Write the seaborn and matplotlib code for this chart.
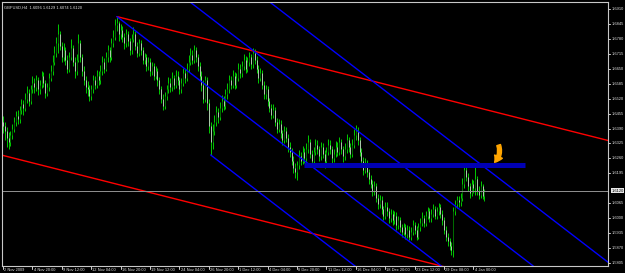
import matplotlib
matplotlib.use("Agg")
import matplotlib.pyplot as plt
import matplotlib.transforms as mtrans
import seaborn as sns
import pandas as pd

# ---------------- data ----------------
symbol = "GBPUSD,H4"
first_open = 1.6420
close = [1.6400, 1.6380, 1.6350, 1.6330, 1.6360, 1.6390, 1.6420, 1.6445, 1.6430, 1.6470,
         1.6495, 1.6480, 1.6520, 1.6545, 1.6510, 1.6560, 1.6590, 1.6570, 1.6600, 1.6560,
         1.6580, 1.6620, 1.6590, 1.6545, 1.6570, 1.6610, 1.6640, 1.6680, 1.6720, 1.6760,
         1.6800, 1.6750, 1.6700, 1.6730, 1.6690, 1.6650, 1.6700, 1.6740, 1.6680, 1.6640,
         1.6690, 1.6760, 1.6700, 1.6640, 1.6600, 1.6570, 1.6560, 1.6530, 1.6560, 1.6600,
         1.6580, 1.6620, 1.6600, 1.6640, 1.6680, 1.6650, 1.6700, 1.6730, 1.6700, 1.6760,
         1.6790, 1.6840, 1.6850, 1.6800, 1.6820, 1.6790, 1.6760, 1.6800, 1.6770, 1.6730,
         1.6780, 1.6800, 1.6750, 1.6720, 1.6760, 1.6730, 1.6690, 1.6700, 1.6660, 1.6680,
         1.6640, 1.6660, 1.6620, 1.6640, 1.6600, 1.6560, 1.6520, 1.6490, 1.6530, 1.6560,
         1.6590, 1.6570, 1.6610, 1.6580, 1.6620, 1.6600, 1.6560, 1.6590, 1.6630, 1.6610,
         1.6650, 1.6680, 1.6710, 1.6690, 1.6730, 1.6700, 1.6660, 1.6620, 1.6580, 1.6520,
         1.6600, 1.6500, 1.6400, 1.6330, 1.6380, 1.6420, 1.6460, 1.6440, 1.6480, 1.6510,
         1.6490, 1.6540, 1.6560, 1.6600, 1.6580, 1.6620, 1.6580, 1.6610, 1.6650, 1.6630,
         1.6660, 1.6690, 1.6650, 1.6680, 1.6700, 1.6670, 1.6720, 1.6690, 1.6650, 1.6610,
         1.6630, 1.6580, 1.6540, 1.6560, 1.6510, 1.6480, 1.6450, 1.6470, 1.6420, 1.6390,
         1.6410, 1.6370, 1.6340, 1.6380, 1.6350, 1.6310, 1.6290, 1.6250, 1.6220, 1.6200,
         1.6230, 1.6270, 1.6250, 1.6290, 1.6260, 1.6300, 1.6330, 1.6280, 1.6250, 1.6290,
         1.6320, 1.6300, 1.6270, 1.6310, 1.6280, 1.6250, 1.6290, 1.6320, 1.6300, 1.6260,
         1.6280, 1.6310, 1.6290, 1.6330, 1.6300, 1.6270, 1.6300, 1.6340, 1.6310, 1.6280,
         1.6320, 1.6360, 1.6380, 1.6340, 1.6290, 1.6250, 1.6210, 1.6240, 1.6200, 1.6170,
         1.6150, 1.6120, 1.6140, 1.6090, 1.6060, 1.6080, 1.6040, 1.6010, 1.6050, 1.6030,
         1.6000, 1.6020, 1.5990, 1.6010, 1.5970, 1.5990, 1.5960, 1.5940, 1.5960, 1.5930,
         1.5950, 1.5920, 1.5940, 1.5970, 1.5950, 1.5920, 1.5960, 1.5980, 1.6000, 1.5980,
         1.6010, 1.6030, 1.6000, 1.6020, 1.6040, 1.6010, 1.6030, 1.6050, 1.6020, 1.5990,
         1.5950, 1.5920, 1.5900, 1.5880, 1.5860, 1.6030, 1.6060, 1.6080, 1.6070, 1.6090,
         1.6150, 1.6210, 1.6180, 1.6140, 1.6110, 1.6150, 1.6130, 1.6170, 1.6120, 1.6100,
         1.6140, 1.6096, 1.6120]
high = [1.6445, 1.6420, 1.6395, 1.6375, 1.6380, 1.6410, 1.6440, 1.6465, 1.6470, 1.6490,
        1.6520, 1.6515, 1.6545, 1.6575, 1.6560, 1.6580, 1.6620, 1.6610, 1.6625, 1.6615,
        1.6600, 1.6640, 1.6635, 1.6600, 1.6590, 1.6630, 1.6665, 1.6710, 1.6750, 1.6790,
        1.6845, 1.6815, 1.6765, 1.6760, 1.6745, 1.6710, 1.6725, 1.6780, 1.6755, 1.6700,
        1.6715, 1.6800, 1.6775, 1.6715, 1.6660, 1.6620, 1.6595, 1.6580, 1.6580, 1.6625,
        1.6620, 1.6645, 1.6640, 1.6665, 1.6705, 1.6695, 1.6725, 1.6755, 1.6745, 1.6785,
        1.6820, 1.6865, 1.6877, 1.6860, 1.6845, 1.6835, 1.6805, 1.6825, 1.6815, 1.6785,
        1.6800, 1.6830, 1.6815, 1.6765, 1.6780, 1.6775, 1.6745, 1.6720, 1.6715, 1.6700,
        1.6695, 1.6680, 1.6675, 1.6660, 1.6655, 1.6615, 1.6575, 1.6540, 1.6550, 1.6580,
        1.6615, 1.6610, 1.6635, 1.6625, 1.6645, 1.6640, 1.6615, 1.6610, 1.6655, 1.6650,
        1.6675, 1.6710, 1.6740, 1.6730, 1.6755, 1.6745, 1.6715, 1.6680, 1.6640, 1.6600,
        1.6620, 1.6615, 1.6520, 1.6420, 1.6410, 1.6450, 1.6490, 1.6480, 1.6505, 1.6535,
        1.6530, 1.6560, 1.6590, 1.6625, 1.6620, 1.6645, 1.6635, 1.6630, 1.6675, 1.6670,
        1.6685, 1.6715, 1.6705, 1.6700, 1.6725, 1.6715, 1.6740, 1.6735, 1.6705, 1.6665,
        1.6655, 1.6645, 1.6595, 1.6580, 1.6575, 1.6525, 1.6495, 1.6495, 1.6485, 1.6435,
        1.6430, 1.6425, 1.6385, 1.6400, 1.6395, 1.6365, 1.6330, 1.6305, 1.6270, 1.6240,
        1.6250, 1.6295, 1.6290, 1.6315, 1.6305, 1.6325, 1.6360, 1.6345, 1.6295, 1.6310,
        1.6345, 1.6340, 1.6315, 1.6330, 1.6325, 1.6295, 1.6310, 1.6345, 1.6340, 1.6315,
        1.6300, 1.6335, 1.6330, 1.6355, 1.6345, 1.6315, 1.6325, 1.6365, 1.6355, 1.6325,
        1.6345, 1.6390, 1.6405, 1.6395, 1.6355, 1.6305, 1.6265, 1.6260, 1.6255, 1.6215,
        1.6190, 1.6165, 1.6160, 1.6155, 1.6105, 1.6100, 1.6095, 1.6055, 1.6070, 1.6070,
        1.6045, 1.6040, 1.6035, 1.6030, 1.6025, 1.6010, 1.6005, 1.5975, 1.5980, 1.5975,
        1.5970, 1.5965, 1.5960, 1.5990, 1.5985, 1.5965, 1.5980, 1.6000, 1.6025, 1.6015,
        1.6030, 1.6050, 1.6045, 1.6040, 1.6060, 1.6055, 1.6050, 1.6065, 1.6060, 1.6035,
        1.6005, 1.5965, 1.5935, 1.5915, 1.5895, 1.6050, 1.6080, 1.6095, 1.6095, 1.6110,
        1.6175, 1.6232, 1.6230, 1.6195, 1.6155, 1.6170, 1.6165, 1.6240, 1.6185, 1.6140,
        1.6160, 1.6150, 1.6129]
low = [1.6370, 1.6340, 1.6310, 1.6300, 1.6315, 1.6345, 1.6375, 1.6400, 1.6410, 1.6415,
       1.6455, 1.6450, 1.6465, 1.6500, 1.6490, 1.6495, 1.6545, 1.6545, 1.6555, 1.6535,
       1.6540, 1.6565, 1.6570, 1.6525, 1.6530, 1.6555, 1.6595, 1.6625, 1.6665, 1.6700,
       1.6720, 1.6730, 1.6680, 1.6685, 1.6665, 1.6630, 1.6635, 1.6690, 1.6660, 1.6610,
       1.6625, 1.6680, 1.6680, 1.6620, 1.6580, 1.6545, 1.6530, 1.6510, 1.6515, 1.6545,
       1.6560, 1.6565, 1.6580, 1.6585, 1.6625, 1.6630, 1.6640, 1.6680, 1.6680, 1.6690,
       1.6745, 1.6775, 1.6815, 1.6770, 1.6780, 1.6765, 1.6735, 1.6745, 1.6750, 1.6710,
       1.6715, 1.6765, 1.6730, 1.6700, 1.6705, 1.6710, 1.6670, 1.6670, 1.6640, 1.6645,
       1.6620, 1.6625, 1.6600, 1.6605, 1.6575, 1.6540, 1.6500, 1.6470, 1.6475, 1.6515,
       1.6545, 1.6550, 1.6555, 1.6560, 1.6565, 1.6580, 1.6540, 1.6545, 1.6575, 1.6590,
       1.6595, 1.6635, 1.6665, 1.6670, 1.6675, 1.6680, 1.6640, 1.6600, 1.6555, 1.6500,
       1.6505, 1.6470, 1.6370, 1.6275, 1.6300, 1.6360, 1.6400, 1.6415, 1.6425, 1.6460,
       1.6470, 1.6475, 1.6520, 1.6545, 1.6560, 1.6565, 1.6560, 1.6565, 1.6595, 1.6610,
       1.6615, 1.6645, 1.6630, 1.6635, 1.6660, 1.6650, 1.6655, 1.6670, 1.6630, 1.6590,
       1.6595, 1.6560, 1.6520, 1.6520, 1.6490, 1.6460, 1.6430, 1.6435, 1.6400, 1.6370,
       1.6375, 1.6350, 1.6320, 1.6325, 1.6330, 1.6290, 1.6265, 1.6230, 1.6195, 1.6175,
       1.6166, 1.6215, 1.6230, 1.6235, 1.6240, 1.6245, 1.6285, 1.6260, 1.6225, 1.6235,
       1.6275, 1.6280, 1.6250, 1.6255, 1.6260, 1.6220, 1.6235, 1.6275, 1.6280, 1.6240,
       1.6245, 1.6265, 1.6270, 1.6275, 1.6280, 1.6245, 1.6255, 1.6285, 1.6290, 1.6260,
       1.6265, 1.6305, 1.6340, 1.6320, 1.6270, 1.6230, 1.6190, 1.6195, 1.6180, 1.6150,
       1.6130, 1.6095, 1.6100, 1.6070, 1.6040, 1.6045, 1.6020, 1.5990, 1.5995, 1.6010,
       1.5980, 1.5985, 1.5970, 1.5975, 1.5950, 1.5955, 1.5940, 1.5920, 1.5925, 1.5910,
       1.5915, 1.5905, 1.5905, 1.5925, 1.5930, 1.5905, 1.5910, 1.5945, 1.5965, 1.5960,
       1.5965, 1.5995, 1.5985, 1.5985, 1.6005, 1.5995, 1.5995, 1.6015, 1.6000, 1.5970,
       1.5930, 1.5900, 1.5880, 1.5860, 1.5840, 1.5830, 1.6015, 1.6045, 1.6050, 1.6055,
       1.6075, 1.6130, 1.6160, 1.6120, 1.6090, 1.6095, 1.6110, 1.6100, 1.6100, 1.6085,
       1.6090, 1.6085, 1.6074]

date_labels = ["2 Nov 2009", "4 Nov 20:00", "9 Nov 12:00", "12 Nov 04:00", "16 Nov 20:00",
               "19 Nov 12:00", "24 Nov 04:00", "26 Nov 20:00", "1 Dec 12:00", "4 Dec 04:00",
               "8 Dec 20:00", "11 Dec 12:00", "16 Dec 04:00", "18 Dec 20:00", "23 Dec 12:00",
               "29 Dec 08:00", "4 Jan 00:00"]
bars_per_label = 16
price_ticks = [1.6910, 1.6845, 1.6780, 1.6715, 1.6650, 1.6585, 1.6520, 1.6455, 1.6390,
               1.6325, 1.6260, 1.6195, 1.6130, 1.6065, 1.6000, 1.5935, 1.5870, 1.5805]

# trend objects: (bar index, price)
red_rays = [[(62, 1.6877), (300, 1.6397)], [(0, 1.6273), (238, 1.5793)]]
blue_rays = [[(62, 1.6877), (238, 1.5795)], [(113, 1.6275), (213, 1.5660)]]
blue_lines = [[(136, 1.6730), (236, 1.6115)], [(247, 1.6314), (307, 1.5945)]]
level_line = {"start": 164, "end": 284, "price": 1.6231}
arrow_bar, arrow_price = 267.5, 1.6243

# ---------------- build ----------------
n = len(close)
df = pd.DataFrame({"bar": range(n), "open": [first_open] + close[:-1],
                   "high": high, "low": low, "close": close})
df["up"] = df["close"] >= df["open"]

sns.set_theme(style="dark", rc={"axes.facecolor": "black", "figure.facecolor": "black",
                                "axes.grid": False})
plt.rcParams["font.family"] = ["Liberation Sans", "DejaVu Sans"]

W, H = 625, 273
fig = plt.figure(figsize=(W / 100, H / 100), dpi=100)
ax = fig.add_axes([2 / W, 7 / H, 606 / W, 264 / H])
ax.set_facecolor("black")
ax.set_xlim(-0.54, 329.2)
ax.set_ylim(1.5792, 1.69405)
ax.set_xticks([])
ax.set_yticks([])
for s in ax.spines.values():
    s.set_color("#c8c8c8")
    s.set_linewidth(0.8)

px = 0.72  # one pixel in points
ax.vlines(df["bar"], df["low"], df["high"], color="#00c400", linewidth=px)
up = df[df["up"]]
dn = df[~df["up"]]
ax.vlines(up["bar"], up["open"], up["close"], color="#006a00", linewidth=px)
ax.vlines(dn["bar"], dn["close"], dn["open"], color="#a8c8a8", linewidth=px)

def ray(p0, p1, ext=400):
    (x0, y0), (x1, y1) = p0, p1
    k = (y1 - y0) / (x1 - x0)
    return [x0, x1 + ext], [y0, y1 + k * ext]

for p0, p1 in red_rays:
    xs, ys = ray(p0, p1)
    ax.plot(xs, ys, color="#ff0000", linewidth=1.0)
for p0, p1 in blue_rays:
    xs, ys = ray(p0, p1)
    ax.plot(xs, ys, color="#0000ff", linewidth=1.0)
for p0, p1 in blue_lines:
    ax.axline(p0, p1, color="#0000ff", linewidth=1.0)

ax.plot([level_line["start"], level_line["end"]], [level_line["price"]] * 2,
        color="#0000b4", linewidth=3.6, solid_capstyle="butt")

last = df.iloc[-1]
ax.axhline(last["close"], color="#8c8c8c", linewidth=px)

ax.annotate("", xy=(arrow_bar, arrow_price), xytext=(arrow_bar + 2.2, arrow_price + 0.0075),
            arrowprops=dict(arrowstyle="simple,head_width=1.1,head_length=0.9,tail_width=0.5",
                            mutation_scale=5.5, color="#ffa500", shrinkA=0, shrinkB=0,
                            connectionstyle="arc3,rad=-0.3"))

fs = 2.9
tc = "#e0e0e0"
ax.text(0.003, 0.986, f"{symbol}  {last['open']:.4f} {last['high']:.4f} {last['low']:.4f} {last['close']:.4f}",
        transform=ax.transAxes, color=tc, fontsize=fs, va="top", ha="left")

ry = mtrans.blended_transform_factory(ax.transAxes, ax.transData)
for p in price_ticks:
    if abs(p - last["close"]) < 0.0018:
        continue
    ax.plot([1.0, 1.004], [p, p], transform=ry, color="#c8c8c8", linewidth=px, clip_on=False)
    ax.text(1.0055, p, f"{p:.4f}", transform=ry, color=tc, fontsize=fs, va="center", ha="left")
ax.text(1.0055, last["close"], f"{last['close']:.4f}", transform=ry, color="black",
        fontsize=fs, va="center", ha="left",
        bbox=dict(boxstyle="square,pad=0.12", facecolor="#e8e8e8", edgecolor="none"))

bx = mtrans.blended_transform_factory(ax.transData, ax.transAxes)
for k, lab in enumerate(date_labels):
    b = k * bars_per_label
    ax.plot([b, b], [0, -0.012], transform=bx, color="#c8c8c8", linewidth=px, clip_on=False)
    ax.text(b + 0.6, -0.0135, lab, transform=bx, color=tc, fontsize=fs, va="center", ha="left")

fig.savefig("out.png", dpi=100, facecolor="black")
